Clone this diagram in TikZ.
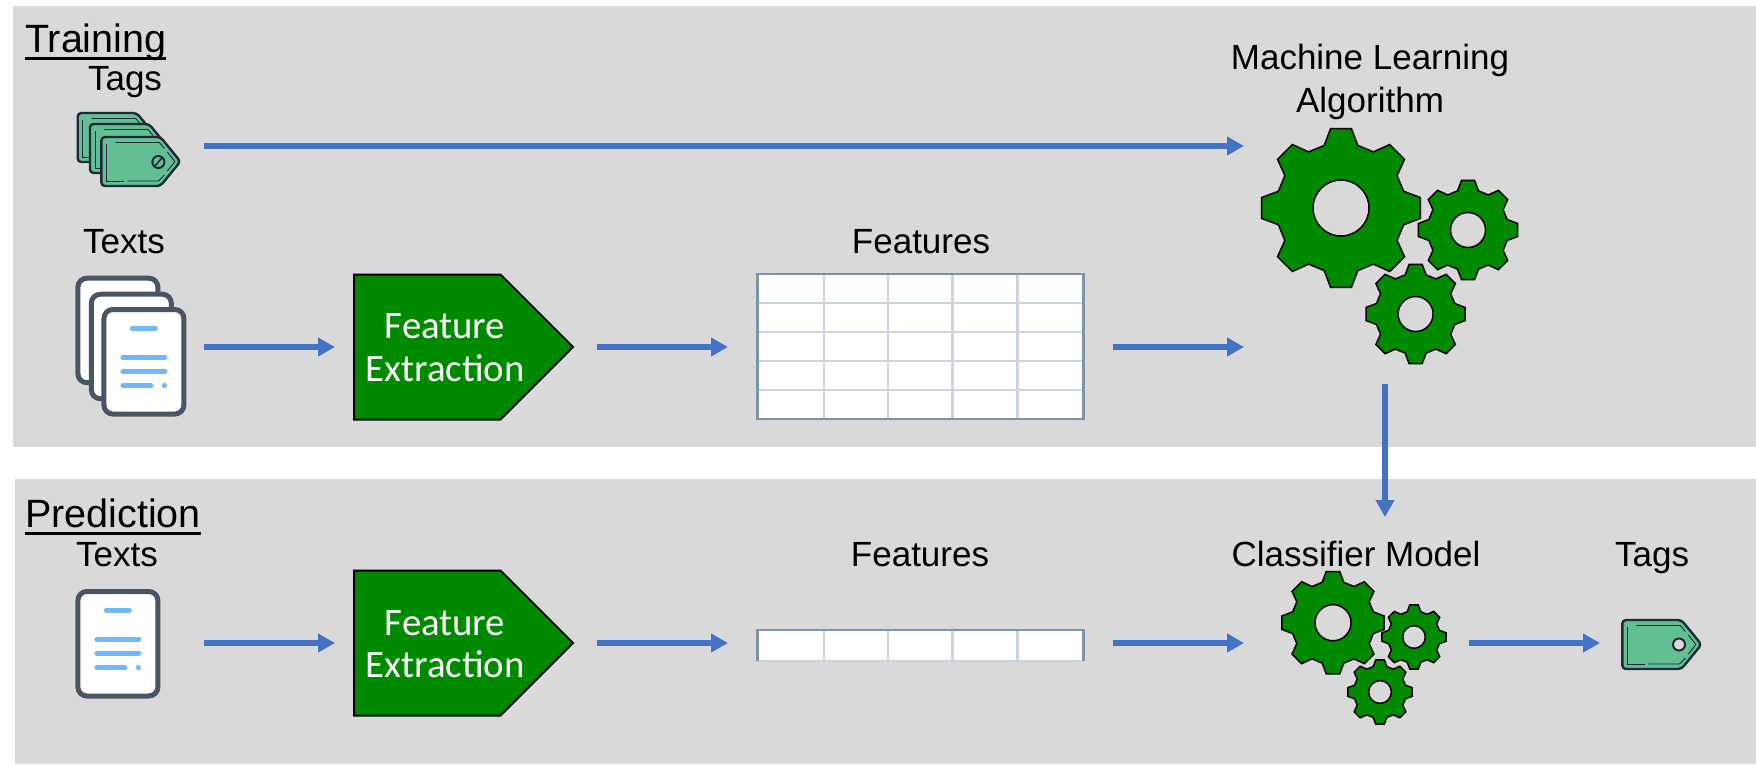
\documentclass[tikz,border=0pt]{standalone}
\RequirePackage{fontspec}
\RequirePackage{tikz}
\usetikzlibrary{arrows.meta}
\usetikzlibrary{shapes.symbols}
\setmainfont{Liberation Sans}
\newfontfamily\boxfont{Carlito}

\definecolor{panelgray}{HTML}{D9D9D9}
\definecolor{flowblue}{HTML}{4472C4}
\definecolor{geargreen}{HTML}{008A00}
\definecolor{taggreen}{HTML}{61BF93}
\definecolor{tagdark}{HTML}{1F2937}
\definecolor{pagedark}{HTML}{4A5563}
\definecolor{pageblue}{HTML}{70B8FA}
\definecolor{gridlight}{HTML}{C8D5E0}
\definecolor{griddark}{HTML}{8094A8}

\tikzset{
    flow/.style={draw=flowblue,line width=6pt,-{Triangle[length=17pt,width=18pt]}},
    label text/.style={inner sep=0pt,anchor=base,font=\fontsize{35pt}{43pt}\selectfont},
    title text/.style={inner sep=0pt,anchor=base west,font=\fontsize{39.5pt}{44pt}\selectfont},
    box text/.style={inner sep=0pt,text=white,align=center,font=\boxfont\fontsize{38.8pt}{42.5pt}\selectfont},
    fe box/.style={shape=signal,signal to=east,signal from=nowhere,signal pointer angle=90,
        draw=black,line width=2pt,fill=geargreen,inner sep=0pt,outer sep=0pt,
        minimum width=219pt,minimum height=145pt,anchor=west},
    grid light/.style={draw=gridlight,line width=2.5pt},
    grid dark/.style={draw=griddark,line width=2.5pt},
    table body/.style={fill=white,inner sep=0pt,outer sep=0pt},
    gear body/.style={draw=black,line width=1.5pt,fill=geargreen},
    gear hole/.style={draw=black,line width=1.5pt,fill=panelgray},
    page body/.style={draw=pagedark,line width=5pt,fill=white,rounded corners=9pt},
    page line/.style={draw=pageblue,line width=5pt,line cap=round},
    tag body/.style={draw=tagdark,line width=2.4pt,fill=taggreen,rounded corners=3.5pt},
    tag inner/.style={draw=tagdark,line width=0.9pt},
}

\newcommand{\ulined}[1]{\setbox0=\hbox{#1}\rlap{\rule[-7.5pt]{\wd0}{3pt}}#1}

\newcommand{\gearicon}[3]{
    \begin{scope}[shift={(#1,#2)}]
        \draw[gear body] (-7.5:#3) \foreach \a in {0,45,...,315}{
            -- ({\a-7.5}:#3) -- ({\a+7.5}:#3) -- ({\a+15}:{0.81*#3}) -- ({\a+30}:{0.81*#3})
        } -- cycle;
        \draw[gear hole] (0,0) circle ({0.35*#3});
    \end{scope}
}

\newcommand{\pageicon}[2]{
    \begin{scope}[shift={(#1,#2)}]
        \draw[page body] (2.5,2.5) rectangle (82.5,107);
    \end{scope}
}

\newcommand{\pagetext}[2]{
    \begin{scope}[shift={(#1,#2)}]
        \draw[page line] (31,21) -- (54,21);
        \draw[page line] (21.5,50) -- (63.5,50);
        \draw[page line] (21.5,64) -- (63.5,64);
        \draw[page line] (21.5,78.5) -- (49.5,78.5);
        \fill[pageblue] (63,78.5) circle (2.6);
    \end{scope}
}

\newcommand{\tagicon}[2]{
    \begin{scope}[shift={(#1,#2)}]
        \draw[tag body] (0,0) -- (59,0) -- (79,24.5) -- (59,49) -- (0,49) -- cycle;
        \draw[tag inner] (14,5.5) -- (58,5.5) -- (63,11.5);
        \draw[tag inner] (66,15) -- (73.5,24.5) -- (66,34);
        \draw[tag inner] (63,38) -- (57,44) -- (26,44);
        \draw[tag inner] (23,44) -- (5,44) -- (5,7);
    \end{scope}
}

\begin{document}
\begin{tikzpicture}[x=1pt,y=-1pt]
    \useasboundingbox (0,0) rectangle (1756,764);

    \fill[panelgray] (13,6) rectangle (1756,447);
    \fill[panelgray] (15,479) rectangle (1756,764);

    \node[title text] (T1) at (25,52) {\ulined{Training}};
    \node[title text] (T2) at (25,527) {\ulined{Prediction}};

    \node[label text] (L1) at (125,90) {Tags};
    \node[label text] (L2) at (124,253) {Texts};
    \node[label text] (L3) at (921,253) {Features};
    \node[label text,align=center] (L4) at (1370,112) {Machine Learning\\Algorithm};
    \node[label text] (L5) at (117,566) {Texts};
    \node[label text] (L6) at (920,566) {Features};
    \node[label text] (L7) at (1356,566) {Classifier Model};
    \node[label text] (L8) at (1652,566) {Tags};

    \tagicon{77.7}{113}
    \tagicon{90}{124}
    \tagicon{101.4}{137}
    \draw[line width=2pt,draw=tagdark] (158.4,162) circle (6);
    \draw[line width=1.6pt,draw=tagdark] (154.5,166.5) -- (162.3,157.5);
    \tagicon{1622.4}{620}
    \draw[line width=2pt,draw=tagdark,fill=panelgray] (1679,644.5) circle (6);

    \pageicon{75.4}{275.7}
    \pageicon{88.8}{291.7}
    \pageicon{101.4}{307}
    \pagetext{101.4}{307}
    \pageicon{75.4}{589}
    \pagetext{75.4}{589}

    \node[fe box] (FE1) at (354,347) {};
    \node[box text] (X1) at (445,347.5) {Feature\\Extraction};
    \node[fe box] (FE2) at (354,643) {};
    \node[box text] (X2) at (445,644) {Feature\\Extraction};

    \node[table body,minimum width=326pt,minimum height=145pt] (TB1) at (920.5,346.5) {};
    \foreach \yv in {303,332,361,390}
        \draw[grid light,line width=1.8pt] (TB1.west |- 0,\yv) -- (TB1.east |- 0,\yv);
    \foreach \xv in {824,888,952.5,1017.5}
        \draw[grid light] (\xv,274) -- (\xv,419);
    \draw[grid dark] (TB1.south west) rectangle (TB1.north east);

    \node[table body,minimum width=326pt,minimum height=31pt] (TB2) at (920.5,645.5) {};
    \foreach \xv in {824,888,952.5,1017.5}
        \draw[grid light] (\xv,630) -- (\xv,661);
    \draw[grid light,line width=1.5pt] (TB2.south west) -- (TB2.south east);
    \draw[grid dark] (TB2.south west) -- (TB2.north west) -- (TB2.north east) -- (TB2.south east);

    \gearicon{1341}{208}{80}
    \gearicon{1468}{230}{50}
    \gearicon{1415.6}{314}{50}
    \gearicon{1333}{622.7}{51.6}
    \gearicon{1414}{637}{32.3}
    \gearicon{1380}{692}{32.5}

    \coordinate (G1) at (204,146);
    \coordinate (G2) at (1244,146);
    \coordinate (D1) at (204,347);
    \coordinate (G3) at (1244,347);
    \coordinate (G4) at (1385,384);
    \coordinate (M1) at (1385,517);
    \coordinate (D2) at (204,643);
    \coordinate (M2) at (1244,643);
    \coordinate (M3) at (1469,643);
    \coordinate (G5) at (1600,643);

    \draw[flow] (G1) -- (G2);
    \draw[flow,shorten >=19pt] (D1) -- (FE1.west);
    \draw[flow,shorten <=24pt,shorten >=29.5pt] (FE1.east) -- (FE1.east -| TB1.west);
    \draw[flow,shorten <=29.5pt] (G3 -| TB1.east) -- (G3);
    \draw[flow] (G4) -- (M1);
    \draw[flow,shorten >=19pt] (D2) -- (FE2.west);
    \draw[flow,shorten <=24pt,shorten >=29.5pt] (FE2.east) -- (FE2.east -| TB2.west);
    \draw[flow,shorten <=29.5pt] (M2 -| TB2.east) -- (M2);
    \draw[flow] (M3) -- (G5);
\end{tikzpicture}
\end{document}
